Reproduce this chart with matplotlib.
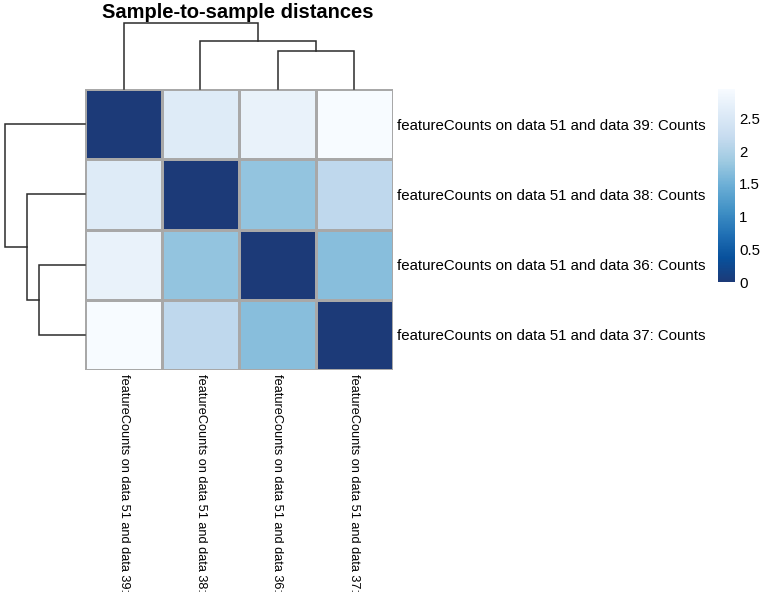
import numpy as np
import matplotlib
matplotlib.use('Agg')
import matplotlib.pyplot as plt
from matplotlib.colors import LinearSegmentedColormap

plt.rcParams['font.family'] = ['Liberation Sans', 'DejaVu Sans']

# samples in display order
samples = ['featureCounts on data 51 and data 39: Counts',
           'featureCounts on data 51 and data 38: Counts',
           'featureCounts on data 51 and data 36: Counts',
           'featureCounts on data 51 and data 37: Counts']
col_labels = ['featureCounts on data 51 and data 39:',
              'featureCounts on data 51 and data 38:',
              'featureCounts on data 51 and data 36:',
              'featureCounts on data 51 and data 37:']

# sample-to-sample distances
d_39 = [0.00, 2.57, 2.74, 2.95]
d_38 = [2.57, 0.00, 1.76, 2.15]
d_36 = [2.74, 1.76, 0.00, 1.68]
d_37 = [2.95, 2.15, 1.68, 0.00]
dist = np.array([d_39, d_38, d_36, d_37])

cbar_ticks = [0, 0.5, 1, 1.5, 2, 2.5]

# reversed brewer Blues, dark end a bit lighter like the picture
blues = ['#1c3a78', '#08519C', '#2171B5', '#4292C6', '#6BAED6',
         '#9ECAE1', '#C6DBEF', '#DEEBF7', '#F7FBFF']
cmap = LinearSegmentedColormap.from_list('blues_r', blues, N=255)


def complete_linkage(d):
    # returns list of (x_a, h_a, x_b, h_b, h) segments for drawing
    clusters = {i: ([i], i + 0.5, 0.0) for i in range(len(d))}
    segs = []
    nxt = len(d)
    while len(clusters) > 1:
        keys = list(clusters)
        best = None
        for a in range(len(keys)):
            for b in range(a + 1, len(keys)):
                ma, mb = clusters[keys[a]][0], clusters[keys[b]][0]
                h = max(d[i, j] for i in ma for j in mb)
                if best is None or h < best[0]:
                    best = (h, keys[a], keys[b])
        h, ka, kb = best
        ma, xa, ha = clusters.pop(ka)
        mb, xb, hb = clusters.pop(kb)
        segs.append((xa, ha, xb, hb, h))
        clusters[nxt] = (ma + mb, (xa + xb) / 2, h)
        nxt += 1
    return segs


segs = complete_linkage(dist)
top_h = max(s[4] for s in segs)

W, H = 765, 599
fig = plt.figure(figsize=(W / 100, H / 100), dpi=100)


def px_axes(x0, y0, x1, y1):
    return fig.add_axes([x0 / W, 1 - y1 / H, (x1 - x0) / W, (y1 - y0) / H])


# heatmap
ax = px_axes(85, 89, 393, 370)
mesh = ax.pcolormesh(dist, cmap=cmap, vmin=0, vmax=dist.max(),
                     edgecolors='#a8a8a8', linewidth=0.9)
ax.set_xlim(0, 4)
ax.set_ylim(4, 0)
for s in ax.spines.values():
    s.set_visible(False)
ax.yaxis.tick_right()
ax.set_yticks(np.arange(4) + 0.5)
ax.set_yticklabels(samples, fontsize=10.8)
ax.set_xticks(np.arange(4) + 0.5)
ax.set_xticklabels(col_labels, fontsize=9.2, rotation=270, va='top', ha='center')
ax.tick_params(length=0, pad=3)

# column dendrogram
axt = px_axes(85, 23, 393, 89)
for xa, ha, xb, hb, h in segs:
    axt.plot([xa, xa, xb, xb], [ha, h, h, hb], color='#2b2b2b', lw=1.1,
             clip_on=False, solid_joinstyle='miter')
axt.set_xlim(0, 4)
axt.set_ylim(0, top_h)
axt.axis('off')

# row dendrogram
axl = px_axes(5, 89, 85, 370)
for xa, ha, xb, hb, h in segs:
    axl.plot([ha, h, h, hb], [xa, xa, xb, xb], color='#2b2b2b', lw=1.1,
             clip_on=False, solid_joinstyle='miter')
axl.set_ylim(4, 0)
axl.set_xlim(top_h, 0)
axl.axis('off')

# colour bar
cax = px_axes(718, 89, 735, 282)
cb = fig.colorbar(mesh, cax=cax, ticks=cbar_ticks)
cb.outline.set_visible(False)
cb.ax.set_yticklabels(['0', '0.5', '1', '1.5', '2', '2.5'])
cb.ax.tick_params(length=0, pad=3, labelsize=10.8)

fig.text(238 / W, 1 - 12 / H, 'Sample-to-sample distances', ha='center',
         va='center', fontsize=14.5, fontweight='bold')

fig.savefig('out.png', dpi=100)
